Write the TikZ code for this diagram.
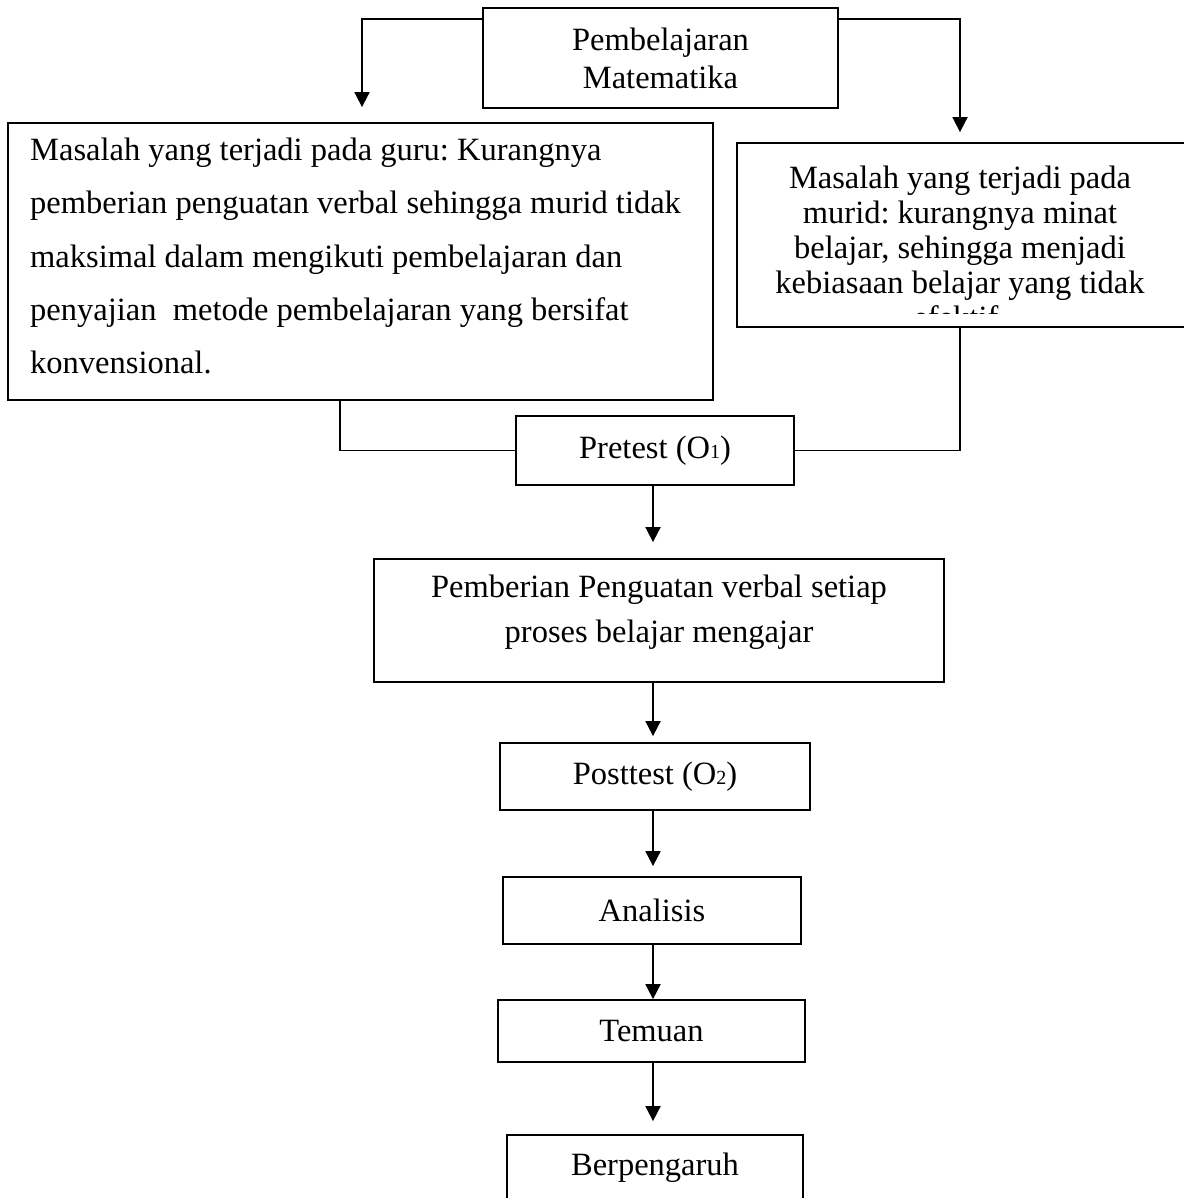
\documentclass[tikz,border=0pt]{standalone}
\usepackage{fontspec}
\setmainfont{Liberation Serif}
\usetikzlibrary{arrows.meta}
\frenchspacing
\newcommand{\smallidx}[1]{{\fontsize{20}{20}\selectfont #1}}
\begin{document}
\begin{tikzpicture}[x=1pt,y=-1pt,
  box/.style={draw, line width=1.8pt, inner sep=0pt},
  conn/.style={line width=1.8pt},
  arr/.style={conn, -{Triangle[length=15pt,width=15pt]}},
  txt/.style={font=\fontsize{32.5}{38}\selectfont}]
\useasboundingbox (0,0) rectangle (1183,1198);
% boxes
\node[box, align=center, font=\fontsize{32.5}{38}\selectfont, minimum width=355, minimum height=100] (A) at (660.5,58) {Pembelajaran\\Matematika};
\node[box, minimum width=705, minimum height=277] (B) at (360.5,261.5) {};
\node[anchor=west, align=left, inner sep=0pt, font=\fontsize{32.5}{53.25}\selectfont] (Btext) at (30,256)
 {Masalah yang terjadi pada guru: Kurangnya\\
  pemberian penguatan verbal sehingga murid tidak\\
  maksimal dalam mengikuti pembelajaran dan\\
  penyajian\ \ metode pembelajaran yang bersifat\\
  konvensional.};
\node[box, minimum width=448, minimum height=184] (C) at (961,235) {};
\begin{scope}
\clip (737,143) rectangle (1183,313);
\node[align=center, inner sep=0pt, font=\fontsize{32.5}{35}\selectfont] (Ctext) at (960,247)
 {Masalah yang terjadi pada\\murid: kurangnya minat\\belajar, sehingga menjadi\\kebiasaan belajar yang tidak\\efektif.};
\end{scope}
\node[box, txt, minimum width=278, minimum height=69] (D) at (655,450.5) {Pretest (O\smallidx{1})};
\node[box, minimum width=570, minimum height=123] (E) at (659,620.5) {};
\node[align=center, inner sep=0pt, font=\fontsize{32.5}{45}\selectfont] (Etext) at (659,612) {Pemberian Penguatan verbal setiap\\proses belajar mengajar};
\node[box, txt, minimum width=310, minimum height=67] (F) at (655,776.5) {Posttest (O\smallidx{2})};
\node[box, txt, minimum width=298, minimum height=67] (G) at (652,910.5) {Analisis};
\node[box, txt, minimum width=307, minimum height=62] (H) at (651.5,1031) {Temuan};
\node[box, txt, minimum width=296, minimum height=66] (I) at (655,1168) {Berpengaruh};
% helper coordinates
\coordinate (ax) at (653,0);
\coordinate (lx) at (362,0);
\coordinate (rx) at (960,0);
\coordinate (lc) at (340,0);
% connectors
\draw[arr] ([yshift=-12pt]A.north west) -| ([yshift=15pt]B.north -| lx);
\draw[arr] ([yshift=-12pt]A.north east) -| ([yshift=10pt]C.north -| rx);
\draw[conn] (B.south -| lc) |- (D.west);
\draw[conn] (C.south -| rx) |- (D.east);
\draw[arr] (D.south -| ax) -- ([yshift=16pt]E.north -| ax);
\draw[arr] (E.south -| ax) -- ([yshift=6pt]F.north -| ax);
\draw[arr] (F.south -| ax) -- ([yshift=10pt]G.north -| ax);
\draw[arr] (G.south -| ax) -- (H.north -| ax);
\draw[arr] (H.south -| ax) -- ([yshift=13pt]I.north -| ax);
\end{tikzpicture}
\end{document}
